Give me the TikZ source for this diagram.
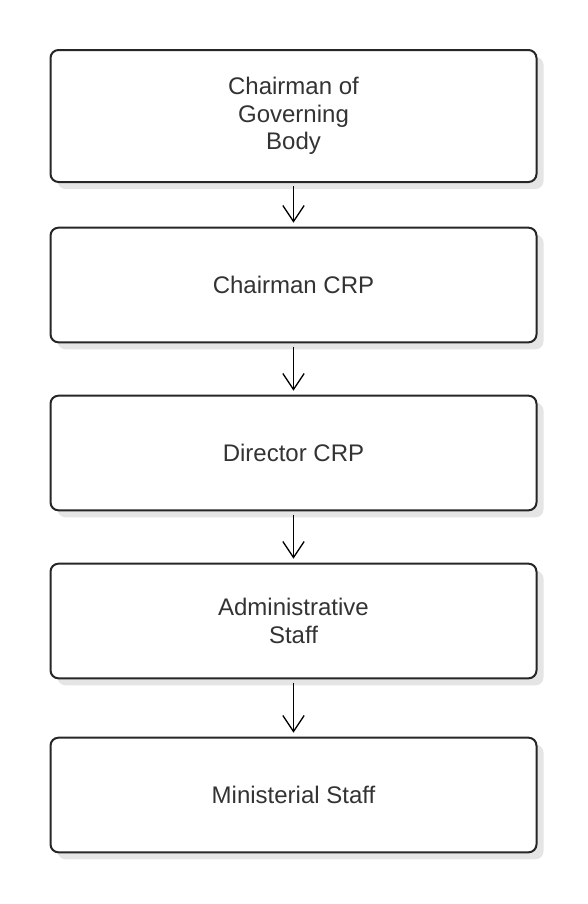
\documentclass[tikz,border=0pt]{standalone}
\usepackage{fontspec}
\setmainfont{Liberation Sans}
\usetikzlibrary{arrows.meta, shadows}

\begin{document}
\begin{tikzpicture}[x=0.75pt, y=-0.75pt,
  post/.style={draw=black!85, line width=1.5pt, rounded corners=6pt, fill=white,
    minimum width=364.5pt, align=center, text=black!80,
    font=\fontsize{18}{20.6}\selectfont,
    drop shadow={shadow xshift=5.25pt, shadow yshift=-5.25pt, fill=black!10, opacity=1}},
  link/.style={-{Straight Barb[length=12pt, width=16pt]}, line width=1pt,
    shorten <=2.5pt, shorten >=3pt}]
\useasboundingbox (0,0) rectangle (588,904);
\node[post, minimum height=99pt] (gov) at (293.5,116) {Chairman of\\Governing\\Body};
\node[post, minimum height=86pt] (chair) at (293.5,285) {Chairman CRP};
\node[post, minimum height=86pt] (dir) at (293.5,453) {Director CRP};
\node[post, minimum height=86pt] (admin) at (293.5,621) {Administrative\\Staff};
\node[post, minimum height=86pt] (minist) at (293.5,795) {Ministerial Staff};
\draw[link] (gov) -- (chair);
\draw[link] (chair) -- (dir);
\draw[link] (dir) -- (admin);
\draw[link] (admin) -- (minist);
\end{tikzpicture}
\end{document}
